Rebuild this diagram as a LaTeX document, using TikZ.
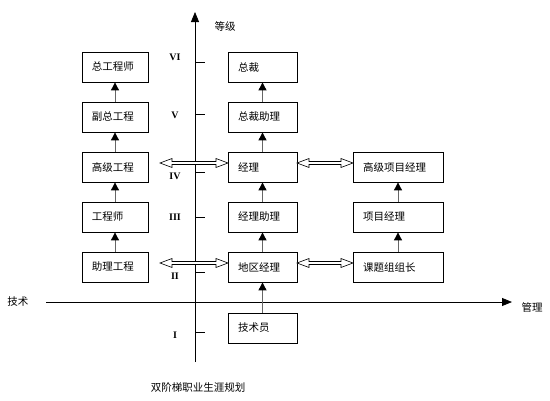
\documentclass[tikz,border=0pt]{standalone}
\usepackage{fontspec}
\setmainfont{Noto Sans CJK SC}
\newfontfamily\romfont{Liberation Serif}
\usetikzlibrary{arrows.meta,calc}
\tikzset{
  box/.style={draw=black, line width=0.8pt, minimum height=30pt, inner ysep=0pt, inner xsep=10pt, align=left, font=\fontsize{10.5}{12}\selectfont},
  lbox/.style={box, text width=46pt},
  mbox/.style={box, text width=49pt},
  rbox/.style={box, text width=70pt},
  upar/.style={draw=gray!80!black, line width=0.9pt, -{Triangle[color=black,length=8pt,width=8pt]}},
  axis/.style={draw=black, line width=0.8pt, -{Triangle[color=black,length=10pt,width=8pt]}},
  tick/.style={draw=black, line width=0.7pt},
  rom/.style={font=\romfont\bfseries\fontsize{10}{12}\selectfont},
  lbl/.style={font=\fontsize{10.5}{12}\selectfont},
  dbl/.style={draw=black, line width=0.6pt, fill=white},
}
\newcommand{\dblarrow}[3]{% x0, x1, y
  \draw[dbl] (#1,#3) -- (#1+12,#3-4.5) -- (#1+12,#3-1.5) -- (#2-12,#3-1.5) -- (#2-12,#3-4.5) -- (#2,#3)
    -- (#2-12,#3+4.5) -- (#2-12,#3+1.5) -- (#1+12,#3+1.5) -- (#1+12,#3+4.5) -- cycle;}
\begin{document}
\begin{tikzpicture}[x=1pt,y=-1pt]
\useasboundingbox (0,0) rectangle (550,400);
% axes
\coordinate (vtop) at (195,12);
\coordinate (vbot) at (195,362);
\coordinate (hl) at (46,302);
\coordinate (hr) at (512,302);
\draw[axis] (vbot) -- (vtop);
\draw[axis] (hl) -- (hr);
\node[lbl] (dengji) at (225,26) {等级};
\node[lbl] (jishu) at (18,302) {技术};
\node[lbl] (guanli) at (532,307) {管理};
% ticks
\foreach \y/\t/\ly in {62/VI/57,114/V/115,172/IV/176,217/III/217,272/II/276,332/I/335}{
  \draw[tick] (195,\y) -- (205,\y);
  \node[rom] at (175,\ly) {\t};
}
% left column
\node[lbox] (l6) at (115,67) {总工程师};
\node[lbox] (l5) at (115,117) {副总工程};
\node[lbox] (l4) at (115,167) {高级工程};
\node[lbox] (l3) at (115,217) {工程师};
\node[lbox] (l2) at (115,267) {助理工程};
% middle column
\node[mbox] (m6) at (262.5,67) {总裁};
\node[mbox] (m5) at (262.5,117) {总裁助理};
\node[mbox] (m4) at (262.5,167) {经理};
\node[mbox] (m3) at (262.5,217) {经理助理};
\node[mbox] (m2) at (262.5,267) {地区经理};
\node[mbox] (m1) at (262.5,328) {技术员};
% right column
\node[rbox] (r4) at (398,167) {高级项目经理};
\node[rbox] (r3) at (398,217) {项目经理};
\node[rbox] (r2) at (398,267) {课题组组长};
% vertical arrows
\draw[upar] (l5.north) -- (l6.south);
\draw[upar] (l4.north) -- (l5.south);
\draw[upar] (l3.north) -- (l4.south);
\draw[upar] (l2.north) -- (l3.south);
\draw[upar] (m5.north) -- (m6.south);
\draw[upar] (m4.north) -- (m5.south);
\draw[upar] (m3.north) -- (m4.south);
\draw[upar] (m2.north) -- (m3.south);
\draw[upar] (m1.north) -- (m2.south);
\draw[upar] (r3.north) -- (r4.south);
\draw[upar] (r2.north) -- (r3.south);
% double arrows
\dblarrow{160}{228}{163}
\dblarrow{297}{353}{163}
\dblarrow{160}{228}{263}
\dblarrow{297}{353}{263}
% caption
\node[lbl] (cap) at (198,387) {双阶梯职业生涯规划};
\end{tikzpicture}
\end{document}
